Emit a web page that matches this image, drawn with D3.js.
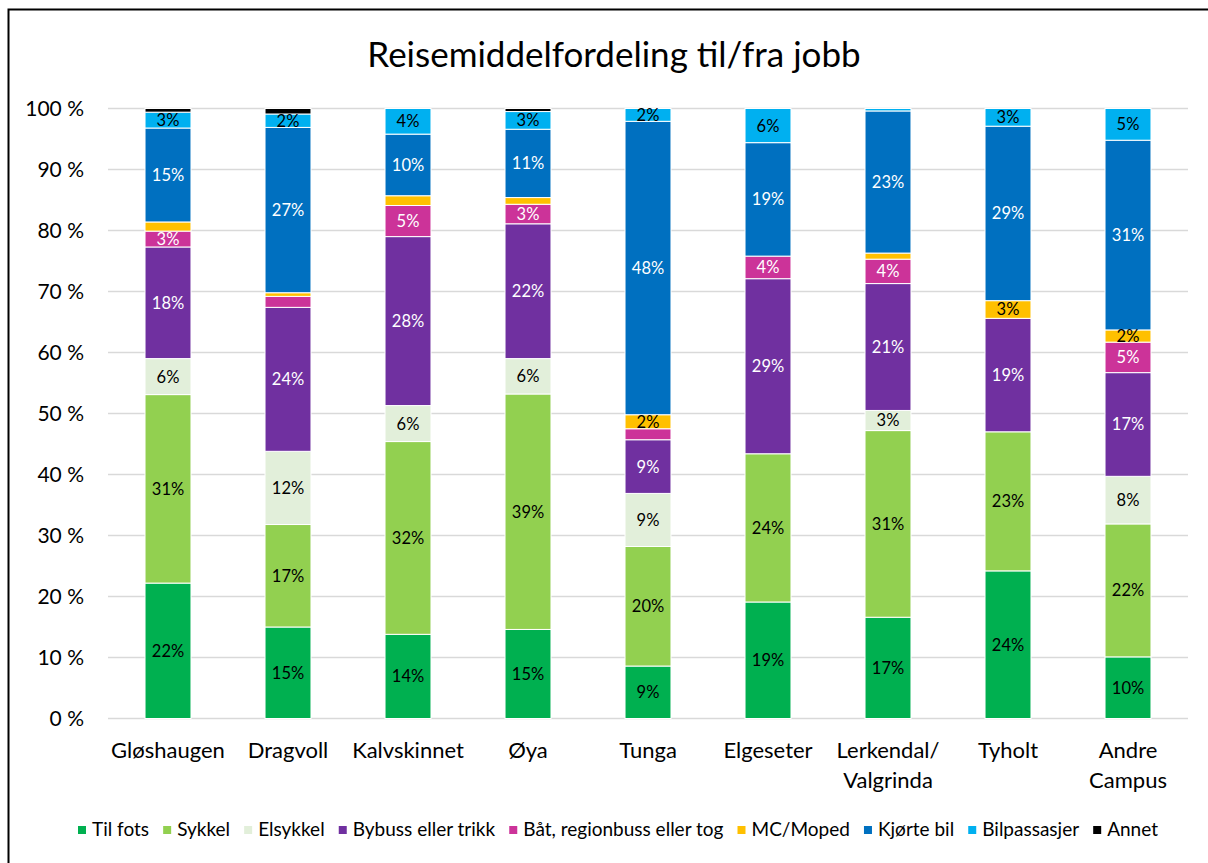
<!DOCTYPE html>
<html>
<head>
<meta charset="utf-8">
<script src="https://cdn.jsdelivr.net/npm/d3@7"></script>
<style>
  html, body { margin: 0; background: #fff; overflow: hidden; }
  svg { display: block; }
  text { font-family: Lato, "Noto Sans", sans-serif; }
</style>
</head>
<body>
<div id="chart"></div>
<script>
// campuses on the x axis
var campuses = ["Gløshaugen", "Dragvoll", "Kalvskinnet", "Øya", "Tunga", "Elgeseter", "Lerkendal/Valgrinda", "Tyholt", "Andre Campus"];
var tickLines = [["Gløshaugen"], ["Dragvoll"], ["Kalvskinnet"], ["Øya"], ["Tunga"], ["Elgeseter"], ["Lerkendal/", "Valgrinda"], ["Tyholt"], ["Andre", "Campus"]];

// travel modes (legend order = stack order)
var modes = ["Til fots", "Sykkel", "Elsykkel", "Bybuss eller trikk", "Båt, regionbuss eller tog", "MC/Moped", "Kjørte bil", "Bilpassasjer", "Annet"];
var modeColors = ["#00b050", "#92d050", "#e2efda", "#7030a0", "#cc3399", "#ffc000", "#0070c0", "#00b0f0", "#000000"];
var whiteLabels = ["Bybuss eller trikk", "Båt, regionbuss eller tog", "Kjørte bil"];

// share in percent, one value per campus
var tilFots      = [22.2, 15.0, 13.8, 14.6,  8.6, 19.1, 16.6, 24.2, 10.1];
var sykkel       = [30.9, 16.8, 31.6, 38.6, 19.6, 24.3, 30.6, 22.8, 21.8];
var elsykkel     = [ 5.9, 12.0,  5.9,  5.8,  8.7,  0.0,  3.3,  0.0,  7.8];
var bybuss       = [18.3, 23.6, 27.7, 22.1,  8.8, 28.7, 20.8, 18.6, 17.0];
var baat         = [ 2.6,  1.8,  5.1,  3.2,  1.8,  3.7,  4.0,  0.0,  5.0];
var mcMoped      = [ 1.5,  0.6,  1.6,  1.1,  2.3,  0.0,  1.0,  2.9,  2.0];
var kjorteBil    = [15.4, 27.1, 10.1, 11.2, 48.1, 18.6, 23.3, 28.6, 31.1];
var bilpassasjer = [ 2.6,  2.2,  4.2,  2.9,  2.1,  5.6,  0.4,  2.9,  5.2];
var annet        = [ 0.6,  0.9,  0.0,  0.5,  0.0,  0.0,  0.0,  0.0,  0.0];

var yTicks = [0, 10, 20, 30, 40, 50, 60, 70, 80, 90, 100];

function chart() {
  var w = 1208;
  var h = 863;
  var left = 108, right = 1188, top = 108.5, bottom = 718.5;

  var series = [tilFots, sykkel, elsykkel, bybuss, baat, mcMoped, kjorteBil, bilpassasjer, annet];

  // one row per campus for d3.stack
  var rows = campuses.map(function(c, i) {
    var row = { campus: c };
    modes.forEach(function(m, j) { row[m] = series[j][i]; });
    return row;
  });

  var stacked = d3.stack().keys(modes)(rows);

  var x = d3.scaleBand()
            .domain(campuses)
            .range([left, right])
            .paddingInner(0.617)
            .paddingOuter(0.3085);

  var y = d3.scaleLinear()
            .domain([0, 100])
            .range([bottom, top]);

  var color = d3.scaleOrdinal().domain(modes).range(modeColors);

  var svg = d3.select("#chart")
              .append("svg")
              .attr("width", w)
              .attr("height", h);

  svg.append("rect")
     .attr("width", w).attr("height", h)
     .attr("fill", "#fff");

  // outer frame: only top and left edges are inside the picture
  svg.append("path")
     .attr("d", "M" + (w + 10) + ",9.5H8.5V" + (h + 10))
     .attr("fill", "none")
     .attr("stroke", "#000")
     .attr("stroke-width", 2);

  svg.append("text")
     .attr("x", 614)
     .attr("y", 67)
     .attr("text-anchor", "middle")
     .style("font-size", "35px")
     .attr("fill", "#000")
     .text("Reisemiddelfordeling til/fra jobb");

  // gridlines
  svg.append("g")
     .selectAll("line")
     .data(yTicks)
     .enter()
     .append("line")
     .attr("x1", left).attr("x2", right)
     .attr("y1", function(d) { return y(d); })
     .attr("y2", function(d) { return y(d); })
     .attr("stroke", "#d9d9d9")
     .attr("stroke-width", 1.6);

  // y axis labels
  var yAxis = d3.axisLeft(y)
                .tickValues(yTicks)
                .tickSize(0)
                .tickPadding(24)
                .tickFormat(function(d) { return d + "\u00a0%"; });

  var gy = svg.append("g")
              .attr("transform", "translate(" + left + ",0)")
              .call(yAxis);
  gy.select(".domain").remove();
  gy.selectAll("text")
    .style("font-size", "21px")
    .style("font-family", "Lato, sans-serif")
    .attr("fill", "#000");

  // x axis labels
  var xAxis = d3.axisBottom(x).tickSize(0).tickFormat("");
  var gx = svg.append("g")
              .attr("transform", "translate(0," + bottom + ")")
              .call(xAxis);
  gx.select(".domain").remove();
  gx.selectAll(".tick")
    .append("text")
    .attr("fill", "#000")
    .attr("text-anchor", "middle")
    .style("font-size", "22px")
    .selectAll("tspan")
    .data(function(d) { return tickLines[campuses.indexOf(d)]; })
    .enter()
    .append("tspan")
    .attr("x", 0)
    .attr("y", function(d, i) { return 39 + i * 30; })
    .text(function(d) { return d; });

  // bars
  var layer = svg.append("g")
                 .selectAll("g")
                 .data(stacked)
                 .enter()
                 .append("g")
                 .attr("fill", function(d) { return color(d.key); });

  layer.selectAll("rect")
       .data(function(d) { return d; })
       .enter()
       .filter(function(d) { return d[1] - d[0] > 0; })
       .append("rect")
       .attr("x", function(d) { return x(d.data.campus); })
       .attr("y", function(d) { return y(d[1]); })
       .attr("width", x.bandwidth())
       .attr("height", function(d) { return y(d[0]) - y(d[1]); })
       .attr("stroke", "#fff")
       .attr("stroke-width", 1);

  // value labels
  var labels = svg.append("g");
  stacked.forEach(function(s) {
    labels.selectAll(null)
          .data(s.filter(function(d) { return d[1] - d[0] >= 1.95; }))
          .enter()
          .append("text")
          .attr("x", function(d) { return x(d.data.campus) + x.bandwidth() / 2; })
          .attr("y", function(d) { return y((d[0] + d[1]) / 2); })
          .attr("dy", "0.36em")
          .attr("text-anchor", "middle")
          .style("font-size", "16.5px")
          .attr("fill", whiteLabels.indexOf(s.key) >= 0 ? "#fff" : "#000")
          .text(function(d) { return Math.round(d[1] - d[0]) + "%"; });
  });

  // legend: spread the items over 78..1158 like the picture
  var legend = svg.append("g");
  var items = legend.selectAll("g")
                    .data(modes)
                    .enter()
                    .append("g");
  items.append("rect")
       .attr("width", 8).attr("height", 8)
       .attr("y", -10)
       .attr("fill", function(d) { return color(d); });
  items.append("text")
       .attr("x", 14)
       .style("font-size", "19px")
       .attr("fill", "#000")
       .text(function(d) { return d; });

  var widths = [];
  items.each(function() {
    widths.push(14 + this.querySelector("text").getComputedTextLength());
  });
  var legendStart = 78, legendEnd = 1158;
  var gap = (legendEnd - legendStart - d3.sum(widths)) / (widths.length - 1);
  var offsets = [];
  var pos = legendStart;
  widths.forEach(function(wd) { offsets.push(pos); pos += wd + gap; });
  items.attr("transform", function(d, i) { return "translate(" + offsets[i] + ",836)"; });
}

function main() {
  chart();
}

window.onload = function() {
  main();
};
</script>
</body>
</html>
